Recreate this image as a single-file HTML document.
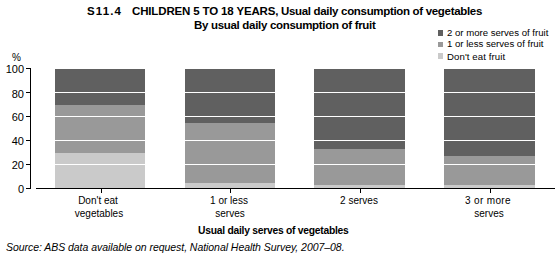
<!DOCTYPE html>
<html><head><meta charset="utf-8">
<style>
html,body{margin:0;padding:0;background:#fff;}
body{width:560px;height:256px;position:relative;overflow:hidden;font-family:"Liberation Sans",sans-serif;color:#000;}
.t{position:absolute;white-space:nowrap;line-height:1;}
.b{font-weight:bold;}
.c{width:130px;text-align:center;font-size:10px;}
</style></head><body>
<svg width="560" height="256" style="position:absolute;left:0;top:0" shape-rendering="crispEdges">
  <!-- bars -->
  <g>
    <rect x="55" y="69" width="90" height="119" fill="#606060"/>
    <rect x="55" y="105" width="90" height="83" fill="#999999"/>
    <rect x="55" y="153" width="90" height="35" fill="#cacaca"/>

    <rect x="185" y="69" width="90" height="119" fill="#606060"/>
    <rect x="185" y="123" width="90" height="65" fill="#999999"/>
    <rect x="185" y="183" width="90" height="5" fill="#cacaca"/>

    <rect x="314" y="69" width="91" height="119" fill="#606060"/>
    <rect x="314" y="149" width="91" height="39" fill="#999999"/>
    <rect x="314" y="185" width="91" height="3" fill="#cacaca"/>

    <rect x="444" y="69" width="91" height="119" fill="#606060"/>
    <rect x="444" y="156" width="91" height="32" fill="#999999"/>
    <rect x="444" y="185" width="91" height="3" fill="#cacaca"/>
  </g>
  <!-- gridlines -->
  <g fill="#fff">
    <rect x="0" y="92" width="560" height="1"/>
    <rect x="0" y="116" width="560" height="1"/>
    <rect x="0" y="140" width="560" height="1"/>
    <rect x="0" y="164" width="560" height="1"/>
  </g>
  <!-- axes -->
  <g fill="#000">
    <rect x="30" y="68" width="1" height="121"/>
    <rect x="26" y="68" width="5" height="1"/>
    <rect x="26" y="92" width="5" height="1"/>
    <rect x="26" y="116" width="5" height="1"/>
    <rect x="26" y="140" width="5" height="1"/>
    <rect x="26" y="164" width="5" height="1"/>
    <rect x="26" y="188" width="5" height="1"/>
    <rect x="36" y="188" width="519" height="1"/>
    <rect x="101" y="189" width="1" height="4"/>
    <rect x="230" y="189" width="1" height="4"/>
    <rect x="360" y="189" width="1" height="4"/>
    <rect x="490" y="189" width="1" height="4"/>
  </g>
  <!-- legend squares -->
  <rect x="438" y="30" width="5" height="6" fill="#606060"/>
  <rect x="438" y="42" width="5" height="5" fill="#999999"/>
  <rect x="438" y="53" width="5" height="6" fill="#cacaca"/>
</svg>

<div class="t b m" style="left:87px;top:6px;font-size:11.5px;letter-spacing:1.1px;">S11.4</div>
<div class="t b m" style="left:132px;top:6px;font-size:11.5px;letter-spacing:-0.15px;">CHILDREN 5 TO 18 YEARS,</div>
<div class="t b m" style="left:281px;top:6px;font-size:11.5px;letter-spacing:-0.32px;">Usual daily consumption of vegetables</div>
<div class="t b m" style="left:194px;top:20px;font-size:11.5px;letter-spacing:-0.31px;">By usual daily consumption of fruit</div>

<div class="t m" style="left:447px;top:28px;font-size:9.6px;">2 or more serves of fruit</div>
<div class="t m" style="left:447px;top:39px;font-size:9.6px;">1 or less serves of fruit</div>
<div class="t m" style="left:447px;top:52px;font-size:9.6px;letter-spacing:0.1px;">Don't eat fruit</div>

<div class="t m" style="left:12px;top:53px;font-size:10px;">%</div>
<div class="t m" style="right:536px;top:64px;font-size:11px;">100</div>
<div class="t m" style="right:536px;top:89px;font-size:11px;">80</div>
<div class="t m" style="right:536px;top:112px;font-size:11px;">60</div>
<div class="t m" style="right:536px;top:136px;font-size:11px;">40</div>
<div class="t m" style="right:536px;top:160px;font-size:11px;">20</div>
<div class="t m" style="right:536px;top:184px;font-size:11px;">0</div>

<div class="t c m" style="left:33px;top:196px;">Don't eat</div>
<div class="t c m" style="left:34px;top:209px;">vegetables</div>
<div class="t c m" style="left:164px;top:196px;">1 or less</div>
<div class="t c m" style="left:165px;top:209px;">serves</div>
<div class="t c m" style="left:294px;top:196px;">2 serves</div>
<div class="t c m" style="left:423px;top:196px;letter-spacing:0.35px;">3 or more</div>
<div class="t c m" style="left:424px;top:209px;">serves</div>

<div class="t b m" style="left:198px;top:226px;font-size:10.3px;letter-spacing:-0.25px;">Usual daily serves of vegetables</div>
<div class="t m" style="left:6px;top:242px;font-size:10.5px;font-style:italic;letter-spacing:-0.05px;">Source: ABS data available on request, National Health Survey, 2007–08.</div>
</body></html>
